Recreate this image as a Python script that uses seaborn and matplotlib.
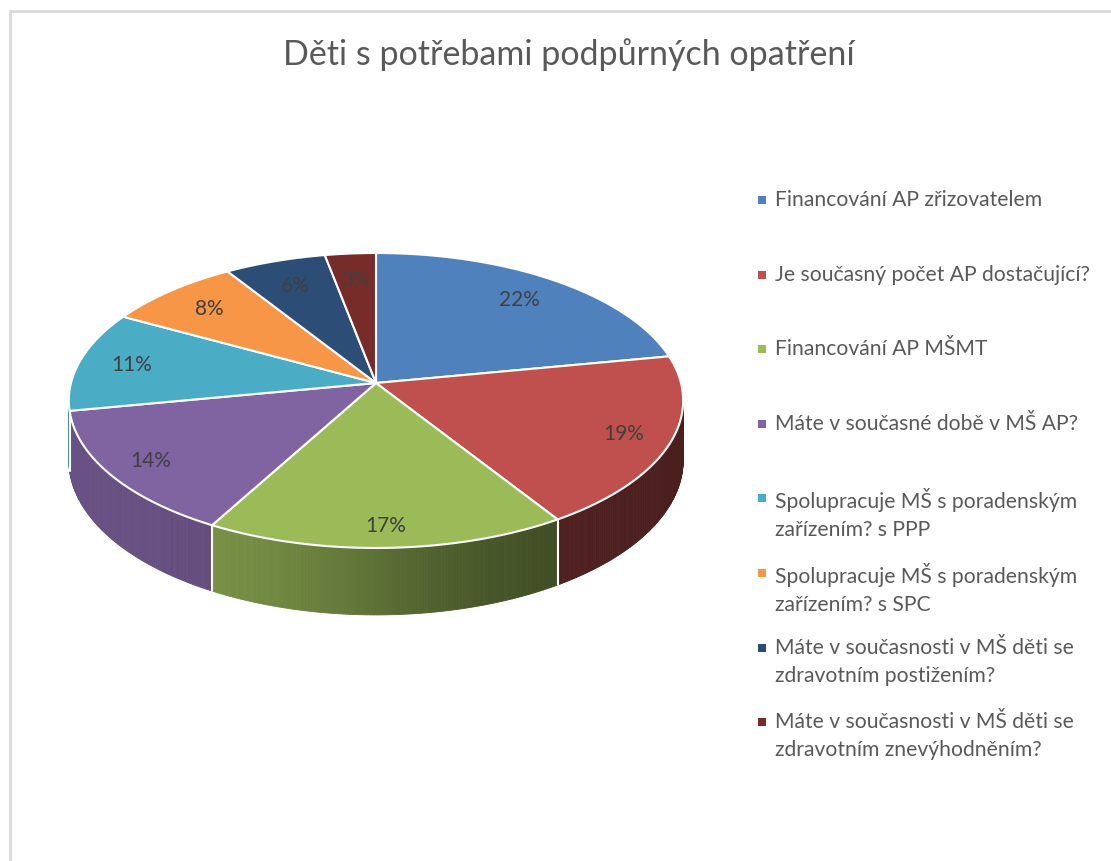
import textwrap
import numpy as np
import matplotlib
matplotlib.use("Agg")
import matplotlib.pyplot as plt
from matplotlib.patches import Polygon, Rectangle
import seaborn as sns

# data
title = "Děti s potřebami podpůrných opatření"
categories = [
    "Financování AP zřizovatelem",
    "Je současný počet AP dostačující?",
    "Financování AP MŠMT",
    "Máte v současné době v MŠ AP?",
    "Spolupracuje MŠ s poradenským zařízením? s PPP",
    "Spolupracuje MŠ s poradenským zařízením? s SPC",
    "Máte v současnosti v MŠ děti se zdravotním postižením?",
    "Máte v současnosti v MŠ děti se zdravotním znevýhodněním?",
]
shares = [22, 19, 17, 14, 11, 8, 6, 3]
slice_colors = ["#4F81BD", "#C0504D", "#9BBB59", "#8064A2",
                "#4BACC6", "#F79646", "#2C4D75", "#772C2A"]

# geometry of the tilted pie (pixels)
CX, CY = 376, 383
RX, RY = 305, 145.4
TILT = 0.1186
DEPTH = 59


def project(theta, r=1.0, drop=0.0):
    """Map an angle (deg, clockwise from 12 o'clock) on the pie to screen pixels."""
    t = np.radians(theta)
    u = r * np.sin(t)
    v = -r * np.cos(t)
    s = 1.0 / (1.0 - TILT * v)
    return CX + RX * u * s, CY + RY * v * s + drop * s


def shade(color, theta):
    u = np.sin(np.radians(theta))
    f = 0.6 - 0.22 * np.tanh(2.2 * u)
    rgb = np.array(matplotlib.colors.to_rgb(color))
    return tuple(rgb * f)


sns.set_theme(style="white")
plt.rcParams["font.family"] = ["Lato", "DejaVu Sans"]
palette = sns.color_palette(slice_colors)

fig = plt.figure(figsize=(11.11, 8.61), dpi=100)
ax = fig.add_axes([0, 0, 1, 1])
ax.set_xlim(0, 1111)
ax.set_ylim(861, 0)
ax.axis("off")

# chart frame
ax.plot([9.5, 9.5, 1111], [861, 10.5, 10.5], color="#D9D9D9", lw=2)

ends = np.cumsum(shares) / np.sum(shares) * 360
starts = np.concatenate([[0], ends[:-1]])

# visible part of the wall lies between the two silhouette angles
sil = np.degrees(np.arccos(-TILT))
wall_lo, wall_hi = sil, 360 - sil

# side walls
for a0, a1, col in zip(starts, ends, palette):
    lo, hi = max(a0, wall_lo), min(a1, wall_hi)
    if lo >= hi:
        continue
    th = np.linspace(lo, hi, int((hi - lo) * 2) + 2)
    for t0, t1 in zip(th[:-1], th[1:]):
        x0, y0 = project(t0)
        x1, y1 = project(t1)
        x2, y2 = project(t1, drop=DEPTH)
        x3, y3 = project(t0, drop=DEPTH)
        c = shade(col, (t0 + t1) / 2)
        ax.add_patch(Polygon([(x0, y0), (x1, y1), (x2, y2), (x3, y3)],
                             facecolor=c, edgecolor=c, lw=0.6))
for a in starts:
    if wall_lo < a < wall_hi:
        xa, ya = project(a)
        xb, yb = project(a, drop=DEPTH)
        ax.plot([xa, xb], [ya, yb], color="white", lw=1.5)

# top face
for a0, a1, col in zip(starts, ends, palette):
    th = np.linspace(a0, a1, int((a1 - a0) * 2) + 2)
    pts = [(CX, CY)] + [project(t) for t in th]
    ax.add_patch(Polygon(pts, facecolor=col, edgecolor="white", lw=1.5,
                         joinstyle="round"))

# percentage labels (pushed a little further out on the near side)
for a0, a1, val in zip(starts, ends, shares):
    mid = (a0 + a1) / 2
    r = 0.83 + 0.05 * (-np.cos(np.radians(mid)))
    x, y = project(mid, r=r)
    ax.text(x, y, f"{val}%", ha="center", va="center", fontsize=15,
            color="#404040")

ax.text(569, 55, title, ha="center", va="center", fontsize=24.5,
        color="#595959")

# legend
for i, (lab, col) in enumerate(zip(categories, palette)):
    y = 200 + i * 74.6
    ax.add_patch(Rectangle((758, y - 4), 8, 8, facecolor=col, edgecolor="none"))
    ax.text(775, y - 10, textwrap.fill(lab, 33), ha="left", va="top",
            fontsize=15.2, color="#595959", linespacing=1.5)

fig.savefig("out.png", dpi=100)
